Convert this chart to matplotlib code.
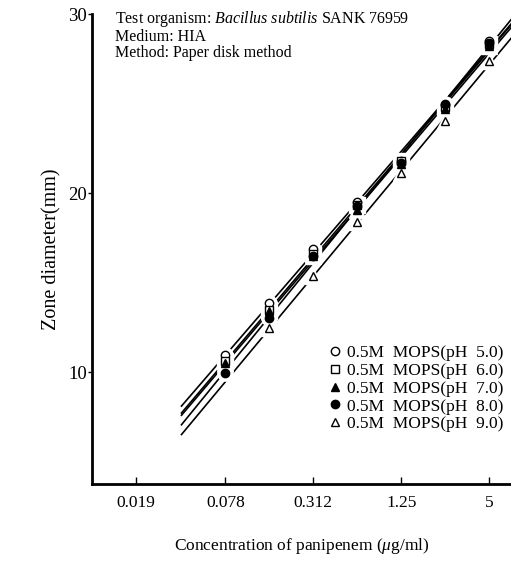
import numpy as np
import matplotlib
matplotlib.use("Agg")
import matplotlib.pyplot as plt
from matplotlib.lines import Line2D

plt.rcParams['font.family'] = ['Liberation Serif', 'DejaVu Serif']
plt.rcParams['mathtext.fontset'] = 'custom'
plt.rcParams['mathtext.rm'] = 'Liberation Serif'
plt.rcParams['mathtext.it'] = 'Liberation Serif:italic'

# data
conc = [0.078, 0.156, 0.312, 0.625, 1.25, 2.5, 5]
ph5 = [10.95, 13.85, 16.9, 19.5, 21.8, 24.9, 28.5]
ph6 = [10.6, 13.5, 16.6, 19.35, 21.8, 24.8, 28.3]
ph7 = [10.5, 13.4, 16.5, 19.05, 21.6, 24.7, 28.2]
ph8 = [9.95, 13.05, 16.5, 19.3, 21.7, 25.0, 28.4]
ph9 = [np.nan, 12.45, 15.4, 18.4, 21.1, 24.0, 27.4]
xticks = [0.019, 0.078, 0.312, 1.25, 5]
xticklabels = ["0.019", "0.078", "0.312", "1.25", "5"]
labels = ["0.5M  MOPS(pH  5.0)", "0.5M  MOPS(pH  6.0)", "0.5M  MOPS(pH  7.0)",
          "0.5M  MOPS(pH  8.0)", "0.5M  MOPS(pH  9.0)"]

series = [ph5, ph6, ph7, ph8, ph9]
markers = ["o", "s", "^", "o", "^"]
filled = [False, False, True, True, False]

fig = plt.figure(figsize=(5.11, 5.61), dpi=100)
ax = fig.add_axes([0.18, 0.137, 0.82, 0.838])
ax.set_xscale("log", base=2)
ax.set_xlim(0.0095, 7.07)
ax.set_ylim(3.75, 30)

x = np.array(conc)
line_x = np.array([0.039, 7.2])
for ys, m, f in zip(series, markers, filled):
    ys = np.array(ys)
    ok = ~np.isnan(ys)
    k, b = np.polyfit(np.log2(x[ok]), ys[ok], 1)
    ax.plot(line_x, k * np.log2(line_x) + b, color="black", lw=1.2, zorder=1, clip_on=False)
    # white halo breaks the line around each point
    ax.plot(x[ok], ys[ok], ls="none", marker=m, ms=11, mfc="white", mec="white", zorder=2)

for ys, m, f in zip(series, markers, filled):
    ys = np.array(ys)
    ax.plot(x, ys, ls="none", marker=m, ms=6, mec="black", mew=1.0,
            mfc="black" if f else "white", zorder=3)

ax.spines["top"].set_visible(False)
ax.spines["right"].set_visible(False)
ax.spines["left"].set_linewidth(2)
ax.spines["bottom"].set_linewidth(2)

ax.set_xticks(xticks)
ax.set_xticklabels(xticklabels)
ax.xaxis.set_minor_locator(plt.NullLocator())
ax.set_yticks([10, 20, 30])
ax.tick_params(axis="x", direction="in", length=5, width=1, labelsize=12.5, pad=8)
ax.tick_params(axis="y", direction="out", length=3, width=1, labelsize=13.5, pad=0.5)

ax.set_ylabel("Zone diameter(mm)", fontsize=14.5, labelpad=5)
ax.set_xlabel(r"Concentration of panipenem ($\mu$g/ml)", fontsize=12.5, labelpad=18)

ax.text(0.055, 1.01, "Test organism: $\\it{Bacillus\\ subtilis}$ SANK 76959\nMedium: HIA\nMethod: Paper disk method",
        transform=ax.transAxes, fontsize=11.5, va="top", ha="left", linespacing=1.0)

handles = [Line2D([], [], ls="none", marker=m, ms=6, mec="black", mew=1.0,
                  mfc="black" if f else "white") for m, f in zip(markers, filled)]
fig.legend(handles, labels, loc="upper left", bbox_to_anchor=(0.625, 0.397),
           frameon=False, fontsize=12.5, handletextpad=0.2, handlelength=1.0,
           labelspacing=0.09, borderaxespad=0)

fig.savefig("out.png", dpi=100)
